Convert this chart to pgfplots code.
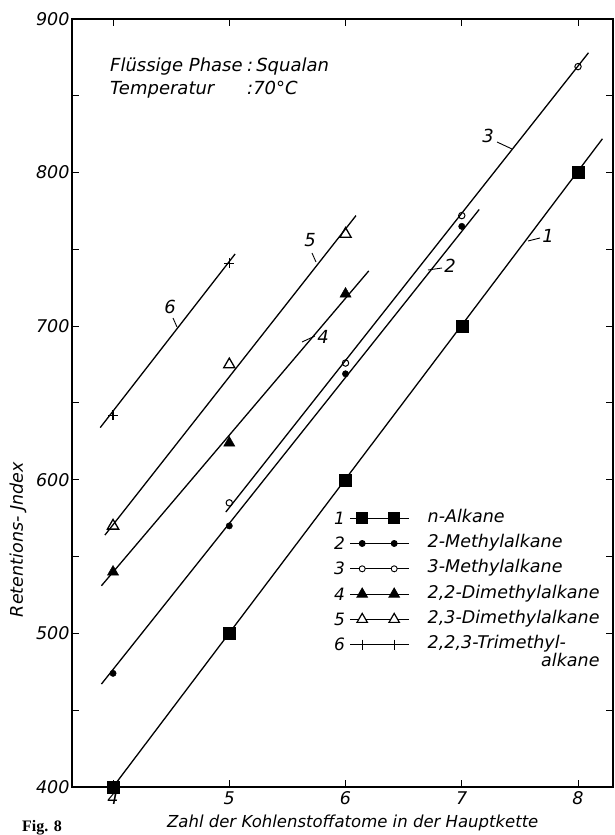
\documentclass[border=0pt]{standalone}
\usepackage{pgfplots}
\pgfplotsset{compat=1.18}
\usepackage{fontspec}
\setmainfont{DejaVu Sans}
\newfontfamily\serifbf{Liberation Serif}
\newcommand\fs[1]{\fontsize{#1}{#1}\selectfont\itshape}
\newlength\legw
\newcommand\legimg[2]{%
  \addlegendimage{legend image code/.code={%
    \node[anchor=base east, inner sep=0pt, font=\fs{17}] at (-5pt,-6pt) {#1};
    \draw[black, line width=1.1pt] (0pt,0pt) -- (59pt,0pt);
    \path[black, line width=0.9pt] plot[#2] coordinates {(12pt,0pt) (44pt,0pt)};
  }}}
\newcommand\lastentry{\vtop{\hbox{2,2,3-Trimethyl-}\hbox to \legw{\hfill alkane}}}
\begin{document}
\settowidth{\legw}{\fs{17.5}2,3-Dimethylalkane}%
\begin{tikzpicture}
\begin{axis}[
  scale only axis, width=541pt, height=768pt,
  xmin=3.647, xmax=8.301, ymin=400, ymax=900,
  xtick={4,5,6,7,8}, ytick={400,500,600,700,800,900},
  minor ytick={450,550,650,750,850},
  tick align=inside, major tick length=7pt, minor tick length=7pt,
  axis line style={line width=1.2pt},
  every tick/.style={black, line width=1pt},
  /pgf/number format/assume math mode=true,
  tick label style={font=\fs{17.5}},
  xticklabel style={yshift=-1pt},
  yticklabel style={xshift=1pt},
  xlabel={Zahl der Kohlenstoffatome in der Hauptkette},
  xlabel style={at={(axis description cs:0.519,0)}, anchor=base, yshift=-40pt, font=\fs{16.5}},
  ylabel={Retentions- Jndex},
  ylabel style={at={(axis description cs:-0.0998,0.322)}, anchor=center, font=\fs{17.5}},
  legend style={draw=none, fill=none, at={(0.4787,0.3633)}, anchor=north west,
    font=\fs{17.5}, row sep=7.3pt,
    nodes={inner sep=0pt, text height=12pt, text depth=4pt},
    /tikz/every odd column/.append style={column sep=18pt}},
  legend cell align=left,
]
% fitted lines
\addplot[black, line width=1.3pt, forget plot] coordinates {(4,400) (8.21,822)};
\addplot[black, line width=1.3pt, forget plot] coordinates {(3.90,467) (7.15,776)};
\addplot[black, line width=1.3pt, forget plot] coordinates {(4.97,579) (8.09,878)};
\addplot[black, line width=1.3pt, forget plot] coordinates {(3.90,531) (6.20,736)};
\addplot[black, line width=1.3pt, forget plot] coordinates {(3.93,564) (6.09,772)};
\addplot[black, line width=1.3pt, forget plot] coordinates {(3.89,634) (5.05,747)};
% measured points
\addplot[only marks, black, mark=square*, mark size=6pt, forget plot] coordinates {(4,400) (5,500) (6,600) (7,700) (8,800)};
\addplot[only marks, black, mark=*, mark size=3.2pt, forget plot] coordinates {(4,474) (5,570) (6,669) (7,765)};
\addplot[only marks, black, mark=o, mark size=3.2pt, mark options={fill=white, line width=1pt}, forget plot] coordinates {(5,585) (6,676) (7,772) (8,869)};
\addplot[only marks, black, mark=triangle*, mark size=6.5pt, forget plot] coordinates {(4,540) (5,624) (6,721)};
\addplot[only marks, black, mark=triangle, mark size=6.5pt, mark options={fill=white, line width=1.3pt}, forget plot] coordinates {(4,570) (5,675) (6,760)};
\addplot[only marks, black, mark=+, mark size=5pt, mark options={line width=1.3pt}, forget plot] coordinates {(4,642) (5,741)};
% legend
\legimg{1}{mark=square*, mark size=5.5pt}
\addlegendentry{n-Alkane}
\legimg{2}{mark=*, mark size=3pt}
\addlegendentry{2-Methylalkane}
\legimg{3}{mark=*, mark size=3pt, mark options={fill=white}}
\addlegendentry{3-Methylalkane}
\legimg{4}{mark=triangle*, mark size=6pt}
\addlegendentry{2,2-Dimethylalkane}
\legimg{5}{mark=triangle*, mark size=6pt, mark options={fill=white, line width=1.2pt}}
\addlegendentry{2,3-Dimethylalkane}
\legimg{6}{mark=+, mark size=5pt, mark options={line width=1.2pt}}
\addlegendentry{\lastentry}
\end{axis}
% annotations (pixel -> pt: x-72, 787-y)
\begin{scope}[font=\fs{18}]
\node[anchor=base west, inner sep=0pt] at (38pt,715pt) {Flüssige Phase};
\node[anchor=base west, inner sep=0pt] at (175pt,715pt) {:\,Squalan};
\node[anchor=base west, inner sep=0pt] at (38pt,692pt) {Temperatur};
\node[anchor=base west, inner sep=0pt] at (175pt,692pt) {:70°C};
\end{scope}
\begin{scope}[font=\fs{18}, line width=0.9pt]
\node at (476pt,551pt) {1};
\draw (456pt,546pt) -- (468pt,549pt);
\node at (378pt,521pt) {2};
\draw (356pt,517pt) -- (370pt,519pt);
\node at (416pt,651pt) {3};
\draw (425pt,645pt) -- (440pt,638pt);
\node at (251pt,450pt) {4};
\draw (230pt,445pt) -- (243pt,451pt);
\node at (238pt,547pt) {5};
\draw (240pt,534pt) -- (244pt,525pt);
\node at (98pt,480pt) {6};
\draw (101pt,469pt) -- (105pt,460pt);
\end{scope}
\node[anchor=base west, inner sep=0pt, font=\serifbf\bfseries\fontsize{16}{16}\selectfont] at (-50pt,-44pt) {Fig. 8};
\pgfresetboundingbox
\useasboundingbox (-72pt,-48pt) rectangle (543pt,787pt);
\end{tikzpicture}
\end{document}
